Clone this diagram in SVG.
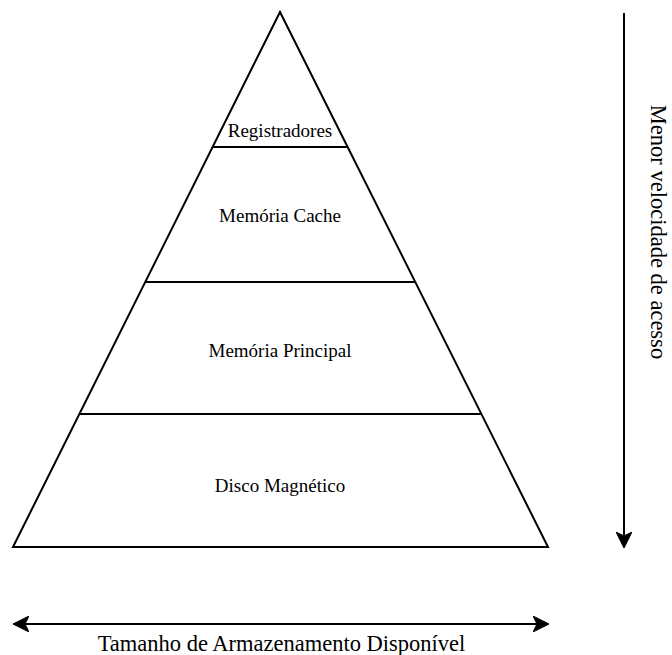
<svg xmlns="http://www.w3.org/2000/svg" width="672" height="655" viewBox="0 0 672 655">
  <style>
    .shape { fill: #ffffff; stroke: #000000; stroke-width: 2; stroke-linejoin: miter; }
    .div { stroke: #000000; stroke-width: 2; fill: none; }
    .lbl { font-family: "Liberation Serif", "Times New Roman", serif; font-size: 19px; fill: #000000; text-anchor: middle; }
    .big { font-family: "Liberation Serif", "Times New Roman", serif; font-size: 22.5px; fill: #000000; text-anchor: middle; }
    .conn { stroke: #000000; stroke-width: 2; fill: none; }
  </style>
  <defs>
    <marker id="arrow" viewBox="0 0 16 16" refX="15" refY="8" markerWidth="16" markerHeight="16" markerUnits="userSpaceOnUse" orient="auto-start-reverse">
      <path d="M0,0 L16,8 L0,16 L4,8 Z" fill="#000000" stroke="#000000" stroke-width="1"/>
    </marker>
  </defs>
  <rect width="672" height="655" fill="#ffffff"/>

  <!-- pyramid outline -->
  <g id="pyramid">
    <polygon class="shape" points="280,12 548,547 13,547"/>
  </g>

  <!-- levels of the memory hierarchy -->
  <g id="registradores">
    <line class="div" x1="212.6" y1="147" x2="347.4" y2="147"/>
    <text class="lbl" x="280" y="137">Registradores</text>
  </g>
  <g id="memoria-cache">
    <line class="div" x1="145" y1="282" x2="415" y2="282"/>
    <text class="lbl" x="280" y="222">Memória Cache</text>
  </g>
  <g id="memoria-principal">
    <line class="div" x1="79" y1="414" x2="481" y2="414"/>
    <text class="lbl" x="280" y="357">Memória Principal</text>
  </g>
  <g id="disco-magnetico">
    <text class="lbl" x="280" y="492">Disco Magnético</text>
  </g>

  <!-- axis arrows -->
  <g id="connectors">
    <line class="conn" x1="624" y1="13" x2="624" y2="547" marker-end="url(#arrow)"/>
    <line class="conn" x1="14" y1="624" x2="548" y2="624" marker-start="url(#arrow)" marker-end="url(#arrow)"/>
  </g>

  <g id="label-velocidade">
    <text class="big" transform="translate(651,232) rotate(90)">Menor velocidade de acesso</text>
  </g>
  <g id="label-tamanho">
    <text class="big" x="281.5" y="651">Tamanho de Armazenamento Disponível</text>
  </g>
</svg>
